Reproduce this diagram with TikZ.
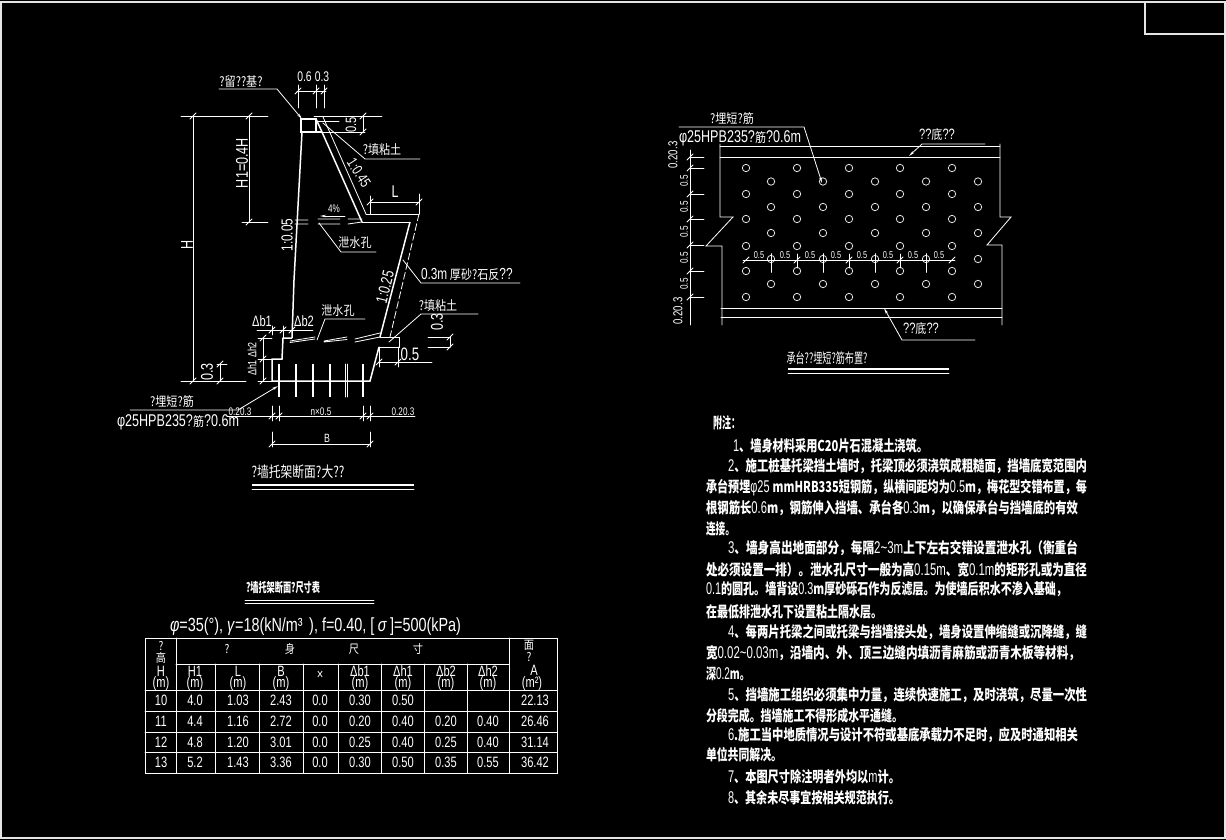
\documentclass[tikz,border=0pt]{standalone}
\usepackage{fontspec}
\usepackage{graphicx}
\usetikzlibrary{arrows.meta}
\newfontfamily\lat[FakeStretch=0.74]{Liberation Sans}
\newfontfamily\cj[FakeStretch=0.85]{Noto Sans CJK SC}
\newcommand{\fz}[1]{\fontsize{#1}{#1}\selectfont}
\newcommand{\la}[1]{{\lat\mdseries\fz{17}#1}}
\newcommand{\tld}{\char"7E }
\newcommand{\tk}[2]{\draw[ln] ({#1-3},{#2+3}) -- ({#1+3},{#2-3});}
\newcommand{\nl}[4]{\pgfmathsetlengthmacro\nw{#2-#1}\node[txt,anchor=west] at (#1,#3) {\resizebox{\nw}{\height}{\fz{15}\cj\bfseries #4}};}
\newcommand{\cel}[3]{\node[txt] at (#1,#2) {\fz{15}\lat #3};}
\newcommand{\ccl}[3]{\node[txt] at (#1,#2) {\fz{12}\cj #3};}
\tikzset{ln/.style={draw=white,line width=0.8pt,line cap=round,line join=miter},
 hv/.style={draw=white,line width=1.5pt,line join=miter},
 txt/.style={text=white,inner sep=0pt,outer sep=0pt},
 hole/.style={draw=white!90!black,line width=0.8pt},
 arr/.style={-{Stealth[length=6pt,width=2.5pt]}}}
\begin{document}
\begin{tikzpicture}[x=1pt,y=-1pt]
\useasboundingbox (0,0) rectangle (1226,840);
\fill[black] (0,0) rectangle (1226,840);
% frame
\draw[draw=white!90!black,line width=1.2pt] (1,2) rectangle (1225,838);
\draw[draw=white!90!black,line width=1.2pt] (1145,2) -- (1145,34) -- (1225,34);
% ---- wall section
\draw[hv] (301,119) rectangle (316,132);
\draw[hv] (316,132) -- (322,132);
\draw[hv] (302,132) -- (294,280) -- (292,338);
\draw[hv] (292,338) -- (283,338) -- (282,359) -- (272,359) -- (272,381) -- (370,381) -- (379,347);
\draw[hv] (316,119) -- (322,132) -- (362,222);
\draw[ln] (362,222) -- (410,222);
\draw[ln] (366,214) -- (419,214);
\draw[ln] (323,117) -- (366,214);
\draw[hv] (410,222) -- (380,337);
\draw[ln,dashed,dash pattern=on 7pt off 3pt] (419,214) -- (390,337);
\draw[ln] (380,337) -- (399,337) -- (399,347) -- (379,347);
\foreach \x in {279,296,313,330,363} \draw[hv] (\x,364) -- (\x,397);
\draw[ln] (345,364) -- (345,397) (347.5,364) -- (347.5,397);
% drain holes
\draw[ln] (295,220) -- (308,220) (295,224) -- (308,224) (318,219) -- (340,219) (318,224) -- (340,224) (348,219) -- (362,219) (348,224) -- (362,222);
\draw[ln] (290,341) -- (315,337) (290,342.5) -- (315,339) (324,341) -- (347,337) (324,342) -- (347,339.5) (355,339) -- (380,333) (355,342) -- (380,337);
\draw[ln] (319,223) -- (341,252) -- (376,252);
\draw[ln] (317,340) -- (325,319) -- (365,319);
\draw[ln,arr] (345,216) -- (320,216);
\node[txt] at (334,209) {\fz{11}\lat 4\%};
\node[txt] at (355,243) {\fz{13}\cj 泄水孔};
\node[txt] at (338,311) {\fz{13}\cj 泄水孔};
% leaders
\draw[ln,arr] (219,89) -- (277,89) -- (302,119);
\node[txt] at (241,82) {\fz{13}\cj ?留??基?};
\draw[ln] (323,123) -- (365,159) -- (420,159);
\node[txt] at (382,150) {\fz{13}\cj ?填粘土};
\draw[ln] (403,260) -- (421,283) -- (520,283);
\node[txt,anchor=west] at (421,274) {\fz{16}\lat 0.3m\,\fz{13}\cj 厚砂?石反\lat\fz{16}??};
\draw[ln] (389,342) -- (421,314) -- (478,314);
\node[txt] at (438,306) {\fz{13}\cj ?填粘土};
% dims left
\draw[ln] (181,116) -- (268,116) (242,222) -- (268,222) (181,381) -- (246,381) (217,364) -- (227,364);
\draw[ln] (193,116) -- (193,381) (249,116) -- (249,222) (220,364) -- (220,381);
\tk{193}{116}\tk{249}{116}\tk{249}{222}\tk{193}{381}\tk{220}{364}\tk{220}{381}
\node[txt,rotate=90] at (242,163) {\fz{17}\lat H1=0.4H};
\node[txt,rotate=90] at (187,245) {\fz{17}\lat H};
\node[txt,rotate=90] at (207,372) {\fz{17}\lat 0.3};
% dims top
\draw[ln] (297,91) -- (326,91) (298,85) -- (298,108) (316,85) -- (316,108) (324,85) -- (324,108);
\tk{298}{91}\tk{316}{91}\tk{324}{91}
\node[txt] at (304.5,77) {\fz{14}\lat 0.6};
\node[txt] at (322,77) {\fz{14}\lat 0.3};
\draw[ln] (314,116) -- (382,116) (322,132) -- (365,132) (363,116) -- (363,132) (316,121) -- (339,121);
\tk{363}{116}\tk{363}{132}
\node[txt,rotate=90] at (351,125) {\fz{15}\lat 0.5};
\node[txt,rotate=-57] at (359,173) {\fz{15}\lat 1:0.45};
\node[txt,rotate=90] at (287,235) {\fz{16}\lat 1:0.05};
\node[txt,rotate=76] at (385,287) {\fz{16}\lat 1:0.25};
% L
\draw[ln] (370,202) -- (419,202) (370,196) -- (370,214) (419,194) -- (419,214);
\tk{370}{202}\tk{419}{202}
\node[txt] at (395,192) {\fz{17}\lat L};
% 0.3 / 0.5 right
\draw[ln] (428,337) -- (450,337) (428,347) -- (450,347) (450,337) -- (450,347);
\tk{450}{337}\tk{450}{347}
\node[txt,rotate=90] at (437,322) {\fz{17}\lat 0.3};
\draw[ln] (379,362) -- (432,362) (379,347) -- (379,367) (398,347) -- (398,367);
\tk{379}{362}\tk{398}{362}
\node[txt] at (410,354) {\fz{18}\lat 0.5};
% db, dh
\draw[ln] (257,330) -- (313,330) (272,326) -- (272,335) (283,326) -- (283,338) (292,326) -- (292,335);
\tk{272}{330}\tk{283}{330}\tk{292}{330}
\node[txt] at (262,321) {\fz{15}\lat Δb1};
\node[txt] at (304,321) {\fz{15}\lat Δb2};
\draw[ln] (263,338) -- (263,381) (258,338) -- (272,338) (258,359) -- (272,359) (258,381) -- (272,381);
\tk{263}{338}\tk{263}{359}\tk{263}{381}
\node[txt,rotate=90] at (252,368) {\fz{12}\lat Δh1};
\node[txt,rotate=90] at (252,350) {\fz{12}\lat Δh2};
% rebar leader
\draw[ln,arr] (130,410) -- (238,410) -- (278,386);
\node[txt] at (172,402) {\fz{13}\cj ?埋短?筋};
\node[txt,anchor=west] at (117,422) {\fz{17}\lat φ25HPB235?\fz{13}\cj 筋\lat\fz{17}?0.6m};
% bottom dims
\draw[ln] (227,416) -- (415,416);
\foreach \x in {272,279,363,370} {\draw[ln] (\x,406) -- (\x,421); \tk{\x}{416}}
\node[txt] at (240,412) {\fz{11}\lat 0.20.3};
\node[txt] at (321,412) {\fz{11}\lat n×0.5};
\node[txt] at (403,412) {\fz{11}\lat 0.20.3};
\draw[ln] (272,444) -- (370,444) (272,432) -- (272,447) (370,432) -- (370,447);
\tk{272}{444}\tk{370}{444}
\node[txt] at (327,438) {\fz{12}\lat B};
% title
\node[txt] at (298,472) {\resizebox{93pt}{\height}{\fz{15}\cj ?墙托架断面?大??}};
\draw[draw=white,line width=1.4pt] (252,485) -- (414,485);
\draw[ln] (252,489) -- (414,489);
% ---- plan
\draw[ln] (720,144) -- (720,217) -- (733,217) -- (706,246) -- (722,246) -- (722,325);
\draw[ln] (1000,144) -- (1000,217) -- (1011,217) -- (987,245) -- (1002,245) -- (1002,325);
\draw[ln] (720,146) -- (1000,146) (720,157) -- (1000,157) (721,308) -- (1002,308) (721,317) -- (1002,317);
\foreach \y in {168,194,219,246,271,297} \foreach \x in {746,797,849,900,952} \draw[hole] (\x,\y) circle (3.7);
\foreach \y in {181.5,207,233,259,284} \foreach \x in {771,823,875,926,978} \draw[hole] (\x,\y) circle (3.7);
\draw[ln] (690,150) -- (690,325);
\foreach \y in {157,168,194,219,245,271,297} {\draw[ln] (690,\y) -- (704,\y); \tk{690}{\y}}
\node[txt,rotate=90] at (673,155) {\fz{13}\lat 0.20.3};
\foreach \y in {181,207,232,258,284} \node[txt,rotate=90] at (684,\y) {\fz{11}\lat 0.5};
\node[txt,rotate=90] at (678,311) {\fz{13}\lat 0.20.3};
\draw[ln] (743,260) -- (955,260);
\foreach \x in {746,797,849,900,952} \tk{\x}{260}
\foreach \x in {771,823,875,926} \draw[ln] (\x,254) -- (\x,272);
\foreach \x in {797,849,900} \draw[ln] (\x,254) -- (\x,268);
\foreach \x in {759,785,810,836,862,888,913,939} \node[txt] at (\x,255) {\fz{10}\lat 0.5};
\draw[ln,arr] (679,127) -- (804,127) -- (822,183);
\node[txt] at (732,119) {\fz{13}\cj ?埋短?筋};
\node[txt,anchor=west] at (679,138) {\fz{17}\lat φ25HPB235?\fz{13}\cj 筋\lat\fz{17}?0.6m};
\draw[ln,arr] (985,144) -- (922,144) -- (909,156);
\node[txt] at (937,135) {\fz{15}\lat ??\fz{13}\cj 底\lat\fz{15}??};
\draw[ln,arr] (975,340) -- (902,340) -- (884,308);
\node[txt] at (921,329) {\fz{15}\lat ??\fz{13}\cj 底\lat\fz{15}??};
\node[txt] at (827,358) {\resizebox{81pt}{\height}{\fz{14}\cj 承台??埋短?筋布置?}};
\draw[draw=white,line width=1.4pt] (788,369) -- (949,369);
\draw[ln] (788,373) -- (949,373);
% ---- table
\node[txt] at (283,588) {\resizebox{74pt}{\height}{\fz{13}\cj\bfseries ?墙托架断面?尺寸表}};
\draw[ln] (245,600) -- (374,600) (245,603) -- (374,603);
\node[txt,anchor=west] at (170,627) {\resizebox{291pt}{\height}{\fz{19}\lat \textit{φ}=35(°), \textit{γ}=18(kN/m³\,\,), f=0.40, [\,\textit{σ}\,]=500(kPa)}};
\draw[ln] (145,638) rectangle (557,773);
\draw[ln] (176,638) -- (176,773) (509,638) -- (509,773);
\draw[ln] (176,664) -- (509,664) (145,690) -- (557,690) (145,711) -- (557,711) (145,732) -- (557,732) (145,752) -- (557,752);
\foreach \x in {215.3,259.7,303.3,338.7,381.3,424.7,467.3} \draw[ln] (\x,664) -- (\x,773);
\ccl{161}{646}{?}\ccl{161}{658}{高}\cel{161}{671}{H}\cel{161}{684}{(m)}
\ccl{227}{649}{?}\ccl{290}{649}{身}\ccl{354}{649}{尺}\ccl{418}{649}{寸}
\ccl{529}{645}{面}\ccl{529}{657}{?}\cel{534}{670}{A}\cel{532}{684}{(m²)}
\cel{195}{671}{H1}\cel{195}{684}{(m)}
\cel{238}{671}{L}\cel{238}{684}{(m)}
\cel{281}{671}{B}\cel{281}{684}{(m)}
\cel{320}{675}{×}
\cel{360}{671}{Δb1}\cel{360}{684}{(m)}
\cel{403}{671}{Δh1}\cel{403}{684}{(m)}
\cel{446}{671}{Δb2}\cel{446}{684}{(m)}
\cel{488}{671}{Δh2}\cel{488}{684}{(m)}
\foreach \y/\a/\b/\c/\d/\e/\f/\g/\h/\i in {700.5/10/4.0/1.03/2.43/0.0/0.30/0.50//,721.5/11/4.4/1.16/2.72/0.0/0.20/0.40/0.20/0.40,742/12/4.8/1.20/3.01/0.0/0.25/0.40/0.25/0.40,762.5/13/5.2/1.43/3.36/0.0/0.30/0.50/0.35/0.55} {
 \cel{161}{\y}{\a}\cel{195}{\y}{\b}\cel{238}{\y}{\c}\cel{281}{\y}{\d}\cel{320}{\y}{\e}\cel{360}{\y}{\f}\cel{403}{\y}{\g}\cel{446}{\y}{\h}\cel{488}{\y}{\i}
}
\cel{535}{700.5}{22.13}\cel{535}{721.5}{26.46}\cel{535}{742}{31.14}\cel{535}{762.5}{36.42}
% ---- notes
\nl{713}{740}{423}{附注\char"FF1A }
\nl{733}{928}{446}{\la{1}、墙身材料采用C20片石混凝土浇筑。}
\nl{728}{1087}{466}{\la{2}、施工桩基托梁挡土墙时\char"FF0C 托梁顶必须浇筑成粗糙面\char"FF0C 挡墙底宽范围内}
\nl{706}{1087}{488}{承台预埋\la{φ25 }mmHRB335短钢筋\char"FF0C 纵横间距均为\la{0.5}m\char"FF0C 梅花型交错布置\char"FF0C 每}
\nl{706}{1078}{508}{根钢筋长\la{0.6}m\char"FF0C 钢筋伸入挡墙、承台各\la{0.3}m\char"FF0C 以确保承台与挡墙底的有效}
\nl{706}{735}{529}{连接。}
\nl{728}{1078}{548}{\la{3}、墙身高出地面部分\char"FF0C 每隔\la{2\tld 3m}上下左右交错设置泄水孔\char"FF08 衡重台}
\nl{706}{1087}{570}{处必须设置一排\char"FF09 。泄水孔尺寸一般为高\la{0.15m}、宽\la{0.1m}的矩形孔或为直径}
\nl{706}{1067}{589}{\la{0.1}的圆孔。墙背设\la{0.3}m厚砂砾石作为反滤层。为使墙后积水不渗入基础\char"FF0C }
\nl{706}{882}{612}{在最低排泄水孔下设置粘土隔水层。}
\nl{728}{1087}{632}{\la{4}、每两片托梁之间或托梁与挡墙接头处\char"FF0C 墙身设置伸缩缝或沉降缝\char"FF0C 缝}
\nl{706}{1080}{653}{宽\la{0.02\tld 0.03m}\char"FF0C 沿墙内、外、顶三边缝内填沥青麻筋或沥青木板等材料\char"FF0C }
\nl{706}{750}{674}{深\la{0.2}m。}
\nl{728}{1087}{695}{\la{5}、挡墙施工组织必须集中力量\char"FF0C 连续快速施工\char"FF0C 及时浇筑\char"FF0C 尽量一次性}
\nl{706}{903}{716}{分段完成。挡墙施工不得形成水平通缝。}
\nl{728}{1078}{735}{\la{6}.施工当中地质情况与设计不符或基底承载力不足时\char"FF0C 应及时通知相关}
\nl{706}{782}{755}{单位共同解决。}
\nl{728}{900}{777}{\la{7}、本图尺寸除注明者外均以\la{m}计。}
\nl{728}{900}{798}{\la{8}、其余未尽事宜按相关规范执行。}
\end{tikzpicture}
\end{document}
